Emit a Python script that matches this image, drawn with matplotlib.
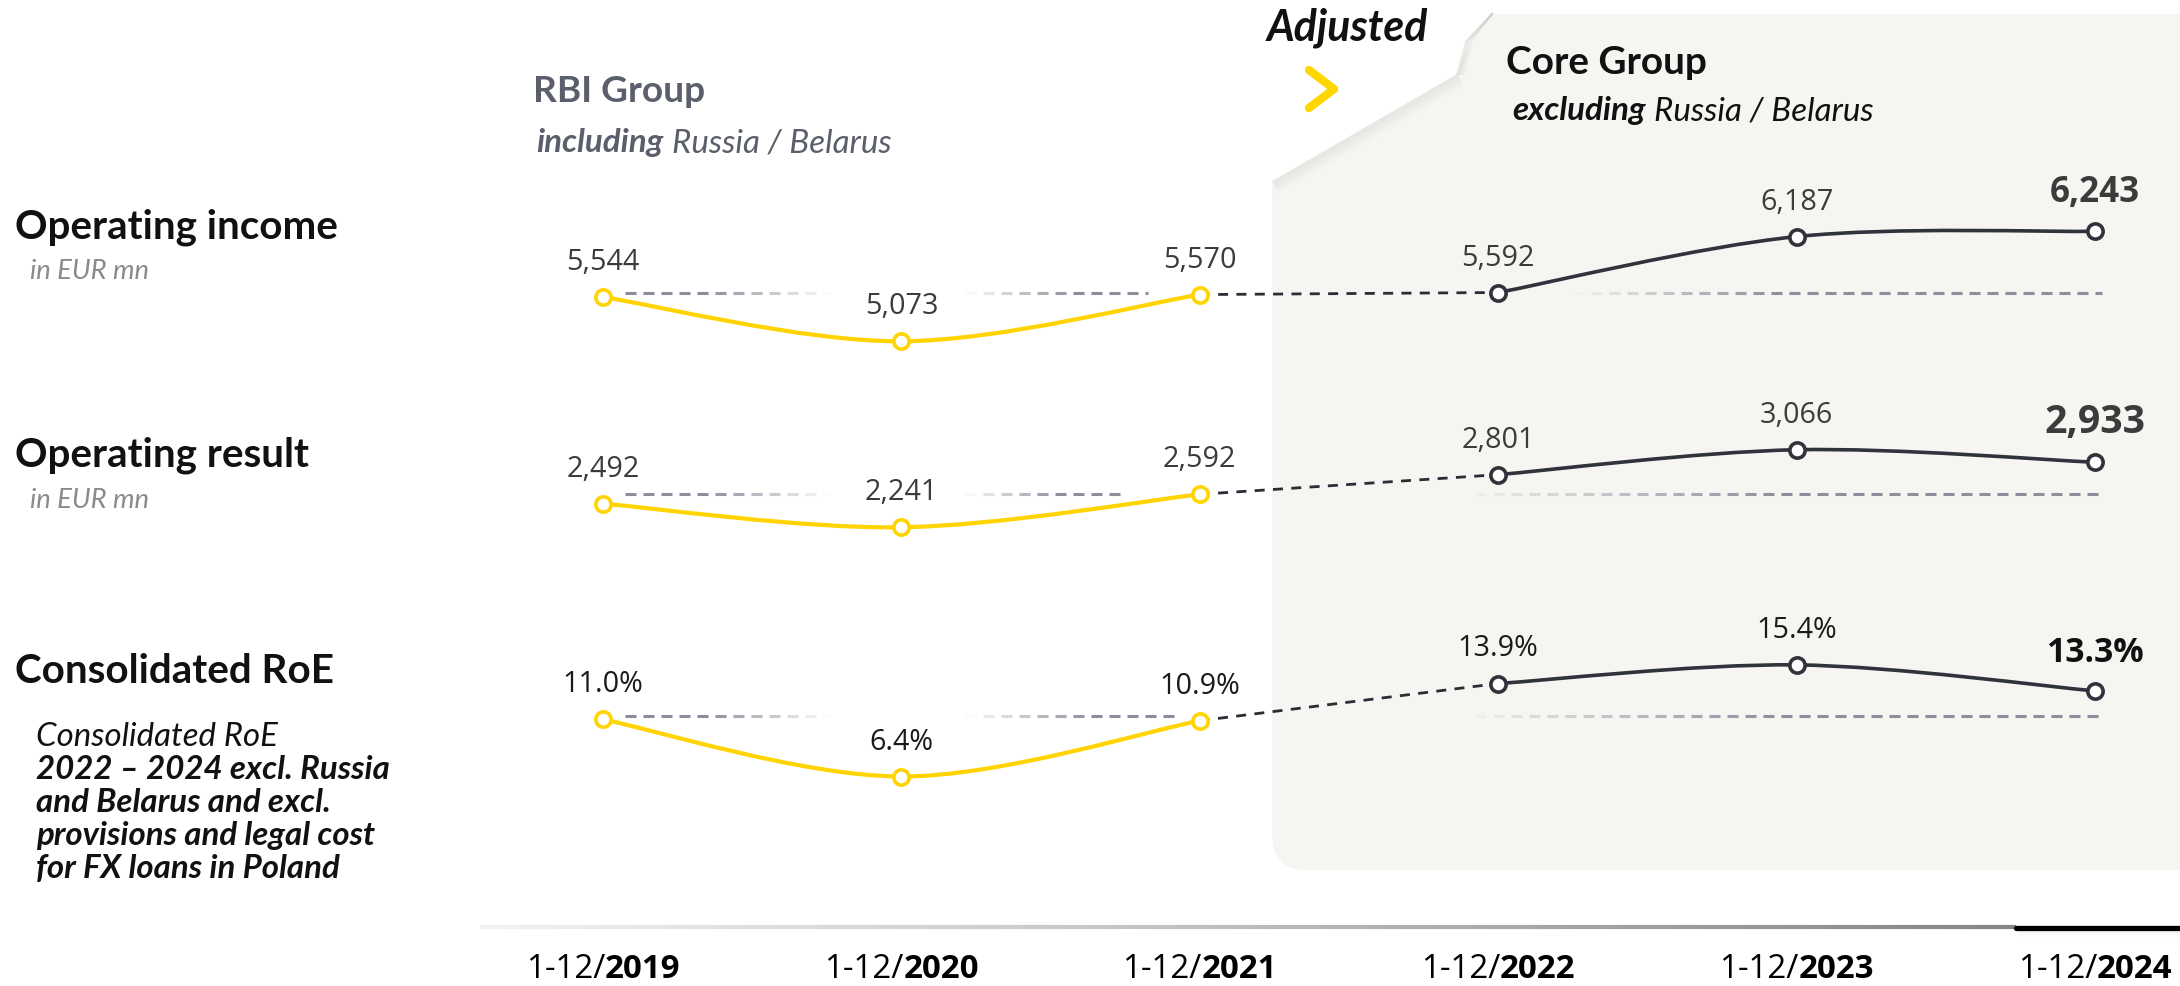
import numpy as np
import matplotlib
matplotlib.use('Agg')
import matplotlib.pyplot as plt
from matplotlib.path import Path
from matplotlib.patches import PathPatch
from matplotlib.collections import LineCollection
from matplotlib.colors import to_rgb

# ---------------- data ----------------
years = ['2019', '2020', '2021', '2022', '2023', '2024']
period_prefix = '1-12/'
operating_income = [5544, 5073, 5570, 5592, 6187, 6243]
operating_result = [2492, 2241, 2592, 2801, 3066, 2933]
consolidated_roe = [11.0, 6.4, 10.9, 13.9, 15.4, 13.3]
baseline_levels = [5590, 2590, 11.3]
row_titles = ['Operating income', 'Operating result', 'Consolidated RoE']
row_units = ['in EUR mn', 'in EUR mn', None]
roe_note = ['Consolidated RoE', '2022 \u2013 2024 excl. Russia', 'and Belarus and excl.',
            'provisions and legal cost', 'for FX loans in Poland']
n_rbi = 3  # first three years: RBI Group incl. Russia / Belarus

series = [operating_income, operating_result, consolidated_roe]

# ---------------- layout / style ----------------
W, H = 2180, 987
X0, DX = 603, 298.4
row_maps = [(5073, 342.3, 0.094), (2241, 528.3, 0.094), (6.4, 777.5, 12.4)]
YEL = '#FFD400'
DARK = '#30333c'
GRAY_DASH = '#8c8e9b'
HEAD = ['Lato', 'DejaVu Sans']
NUM = ['Open Sans', 'DejaVu Sans']

fig = plt.figure(figsize=(W / 100, H / 100), dpi=100)
bg = fig.add_axes([0, 0, 1, 1], zorder=0)
bg.set_xlim(0, W)
bg.set_ylim(H, 0)
bg.axis('off')
R = fig.canvas.get_renderer()


def tw(s, ax=None, **kw):
    ax = ax or bg
    t = ax.text(0, 0, s, **kw)
    w = t.get_window_extent(R).width
    t.remove()
    return w


def fit(s, target, **kw):
    return 20 * target / tw(s, fontsize=20, **kw)


def rich(x, y, parts, size, family, color, ha='left', zorder=6):
    """parts: list of (text, weight, style, space_before)"""
    texts, ws, gaps = [], [], []
    sp = tw('a a', fontsize=size, family=family) - tw('aa', fontsize=size, family=family)
    for s, wt, st, gap in parts:
        t = bg.text(0, y, s, fontsize=size, fontweight=wt, fontstyle=st, family=family,
                    color=color, va='baseline', ha='left', zorder=zorder)
        texts.append(t)
        ws.append(t.get_window_extent(R).width)
        gaps.append(sp if gap else 0)
    total = sum(ws) + sum(gaps)
    cx = x - total / 2 if ha == 'center' else x
    for t, w, g in zip(texts, ws, gaps):
        cx += g
        t.set_x(cx)
        cx += w
    return texts


# ---------------- panel (Core Group) ----------------
pv = [(1272, 182), (1457, 75), (1468, 40), (1492, 15), (W + 5, 15), (W + 5, 871),
      (1307, 871), (1272, 871), (1272, 836), (1272, 182)]
pc = [Path.MOVETO, Path.LINETO, Path.CURVE3, Path.CURVE3, Path.LINETO, Path.LINETO,
      Path.LINETO, Path.CURVE3, Path.CURVE3, Path.CLOSEPOLY]
bg.add_patch(PathPatch(Path(pv, pc), fc='#f6f5f1', ec='none', zorder=0))
# soft shadow under the page curl
nrm = np.array([0.5, 0.866])
for off in range(1, 14):
    p1 = np.array([1272.0, 182.0]) + nrm * off
    p2 = np.array([1457.0, 75.0]) + nrm * off
    bg.plot([p1[0], p2[0]], [p1[1], p2[1]], color='#8f8c84', alpha=0.075 * (1 - off / 14),
            lw=1.5, solid_capstyle='butt', zorder=0.5)
# underside of the curl
for off in range(0, 9):
    bg.plot([1457 + off, 1466 + off * 0.8, 1492], [75, 42, 15], color='#8f8c84',
            alpha=0.09 * (1 - off / 9), lw=1.6, zorder=0.5)

# chevron
bg.plot([1309, 1334, 1309], [71, 90, 109], color='#FFD600', lw=6, solid_capstyle='round',
        solid_joinstyle='round', zorder=3)

# ---------------- titles ----------------
s_adj = fit('Adjusted', 161, family=HEAD, fontweight='bold', fontstyle='italic')
rich(1267, 40, [('Adjusted', 'bold', 'italic', False)], s_adj, HEAD, '#111111')
s_core = fit('Core Group', 201, family=HEAD, fontweight='bold')
rich(1506, 74, [('Core Group', 'bold', 'normal', False)], s_core, HEAD, '#111111')
s_sub = fit('excluding Russia / Belarus', 357, family=HEAD, fontstyle='italic')
rich(1512, 120, [('excluding', 'bold', 'italic', False), ('Russia / Belarus', 'normal', 'italic', True)],
     s_sub, HEAD, '#111111')
s_rbi = fit('RBI Group', 172, family=HEAD, fontweight='bold')
rich(533, 102, [('RBI Group', 'bold', 'normal', False)], s_rbi, HEAD, '#5b5e6b')
rich(536, 152, [('including', 'bold', 'italic', False), ('Russia / Belarus', 'normal', 'italic', True)],
     s_sub, HEAD, '#5b5e6b')

# left-hand row headings
s_head = fit(row_titles[0], 323, family=HEAD, fontweight='bold')
s_unit = fit('in EUR mn', 119, family=HEAD, fontstyle='italic')
head_base = [239, 466, 683]
unit_base = [279, 508]
for i, t in enumerate(row_titles):
    rich(15, head_base[i], [(t, 'bold', 'normal', False)], s_head, HEAD, '#111111')
    if row_units[i]:
        rich(30, unit_base[i], [(row_units[i], 'normal', 'italic', False)], s_unit, HEAD, '#8a8a8a')
s_note = fit(roe_note[3], 338, family=HEAD, fontweight='bold', fontstyle='italic')
note_base = [746, 779, 812, 845, 878]
for i, line in enumerate(roe_note):
    wt = 'normal' if i == 0 else 'bold'
    rich(36, note_base[i], [(line, wt, 'italic', False)], s_note, HEAD, '#111111')

# ---------------- bottom axis line ----------------
xs = np.linspace(480, 2016, 120)
segs = [[(xs[j], 928), (xs[j + 1], 928)] for j in range(len(xs) - 1)]
c0, c1 = np.array(to_rgb('#f2f2f2')), np.array(to_rgb('#858585'))
cols = [tuple(c0 + (c1 - c0) * (j / (len(xs) - 2))) for j in range(len(xs) - 1)]
bg.add_collection(LineCollection(segs, colors=cols, linewidths=3, capstyle='butt', zorder=2))
for off in range(1, 9):
    bg.plot([2020, W], [930 + off, 930 + off], color='#999999', alpha=0.06 * (1 - off / 9),
            lw=1.2, zorder=1.5)
bg.plot([2016, W], [929, 929], color='#000000', lw=3.8, solid_capstyle='round', zorder=2.5)

# ---------------- data rows ----------------
def smooth_path(x, y):
    pts = np.column_stack([x, y]).astype(float)
    n = len(pts)
    verts, codes = [pts[0]], [Path.MOVETO]
    for i in range(n - 1):
        p0 = pts[i - 1] if i > 0 else pts[i]
        p1, p2 = pts[i], pts[i + 1]
        p3 = pts[i + 2] if i + 2 < n else pts[i + 1]
        verts += [p1 + (p2 - p0) / 6, p2 - (p3 - p1) / 6, p2]
        codes += [Path.CURVE4] * 3
    return Path(verts, codes)


def fading_dashes(ax, x_from, x_to, level, alpha_of, lw=2.2, dash=11, gap=7):
    segs, cols = [], []
    rgb = to_rgb(GRAY_DASH)
    xx = x_from
    while xx < x_to:
        xe = min(xx + dash / DX, x_to)
        a = float(np.clip(alpha_of((xx + xe) / 2), 0, 1))
        if a > 0.02:
            segs.append([(xx, level), (xe, level)])
            cols.append((*rgb, a))
        xx += (dash + gap) / DX
    ax.add_collection(LineCollection(segs, colors=cols, linewidths=lw, capstyle='butt', zorder=1))


def px(p):
    return (p - X0) / DX


yellow_end = [1148, 1123, 1178]
panel_start = [1573, 1457, 1457]
bold_widths = [90, 101, 98]
num_size = fit('5,544', 73, family=NUM)
x = np.arange(len(years))
row_axes = []
for r, vals in enumerate(series):
    v0, y0, k = row_maps[r]
    ax = fig.add_axes([0, 0, 1, 1], zorder=2)
    ax.axis('off')
    ax.set_xlim(px(0), px(W))
    ax.set_ylim(v0 - (H - y0) / k, v0 + y0 / k)
    row_axes.append(ax)
    lvl = baseline_levels[r]
    # faded reference dashes
    a0, a1 = px(625), px(830)
    fading_dashes(ax, a0, a1, lvl, lambda t, a0=a0, a1=a1: 1.7 * (1 - (t - a0) / (a1 - a0)))
    b0, b1 = px(965), px(yellow_end[r])
    fading_dashes(ax, b0, b1, lvl, lambda t, b0=b0, b1=b1: 1.7 * (t - b0) / (b1 - b0))
    c0_, cf, c1_ = px(panel_start[r]), px(1776), px(2102)
    fading_dashes(ax, c0_, c1_, lvl, lambda t, c0_=c0_, cf=cf: (t - c0_) / (cf - c0_))
    # curves
    ax.add_patch(PathPatch(smooth_path(x[:n_rbi], vals[:n_rbi]), fill=False, ec=YEL, lw=3.0, zorder=2))
    ax.add_patch(PathPatch(smooth_path(x[n_rbi:], vals[n_rbi:]), fill=False, ec=DARK, lw=2.6, zorder=2))
    ax.plot(x[n_rbi - 1:n_rbi + 1], vals[n_rbi - 1:n_rbi + 1], ls=(0, (3.6, 3.0)), color='#2b2d36',
            lw=2.0, zorder=1.5)
    ax.plot(x[:n_rbi], vals[:n_rbi], 'o', ms=11, mfc='white', mec=YEL, mew=2.6, ls='none', zorder=4)
    ax.plot(x[n_rbi:], vals[n_rbi:], 'o', ms=11, mfc='white', mec=DARK, mew=2.6, ls='none', zorder=4)
    # value labels
    for i, v in enumerate(vals):
        s = f'{v:.1f}%' if r == 2 else f'{v:,}'
        last = i == len(vals) - 1
        if last:
            size = fit(s, bold_widths[r], family=NUM, fontweight='bold')
            col = '#111111' if r == 2 else '#3b3b3b'
            ax.annotate(s, (i, v), xytext=(0, 30), textcoords='offset pixels', ha='center',
                        va='baseline', fontsize=size, fontweight='bold', family=NUM, color=col, zorder=5)
        else:
            col = '#1a1a1a' if r == 2 else '#3b3b3b'
            ax.annotate(s, (i, v), xytext=(0, 28), textcoords='offset pixels', ha='center',
                        va='baseline', fontsize=num_size, family=NUM, color=col, zorder=5)

# category labels under the axis
tick_size = fit(period_prefix + years[0], 155, family=NUM)
inv = bg.transData.inverted()
for i, yr in enumerate(years):
    cx = inv.transform(row_axes[-1].transData.transform((i, 0)))[0]
    rich(cx, 978, [(period_prefix, 'normal', 'normal', False), (yr, 'bold', 'normal', False)],
         tick_size, NUM, '#000000', ha='center')

fig.savefig('out.png', dpi=100, facecolor='white')
